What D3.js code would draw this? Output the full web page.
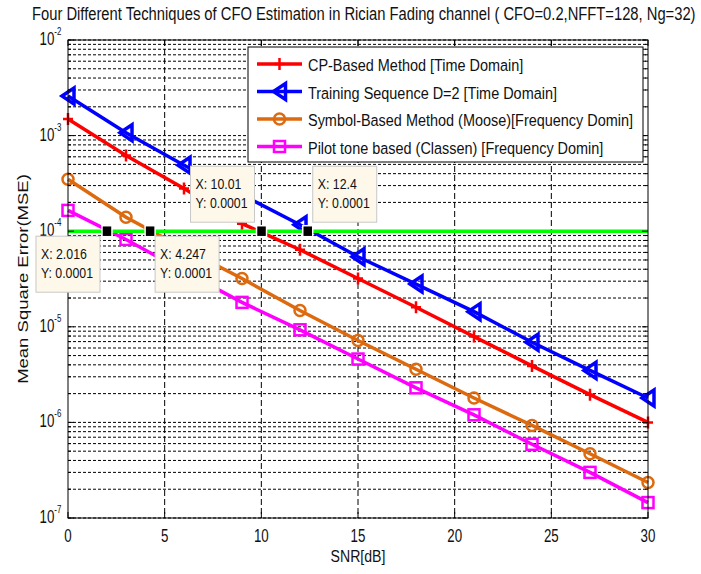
<!DOCTYPE html>
<html>
<head>
<meta charset="utf-8">
<script src="https://d3js.org/d3.v7.min.js"></script>
<style>
  body { margin: 0; background: #fff; }
  text { font-family: "Liberation Sans", Arial, sans-serif; fill: #111; }
  .grid line { stroke: #000; stroke-width: 1; }
</style>
</head>
<body>
<div id="chart"></div>
<script>
// values
const snr = [0, 3, 6, 9, 12, 15, 18, 21, 24, 27, 30];
const cpBased = [1.49e-3, 6.2e-4, 2.8e-4, 1.2e-4, 6.4e-5, 3.2e-5, 1.6e-5, 7.9e-6, 3.9e-6, 1.95e-6, 1.0e-6];
const trainSeq = [2.6e-3, 1.07e-3, 4.9e-4, 2.4e-4, 1.17e-4, 5.4e-5, 2.8e-5, 1.44e-5, 6.9e-6, 3.5e-6, 1.8e-6];
const moose = [3.5e-4, 1.4e-4, 6.6e-5, 3.2e-5, 1.48e-5, 7.2e-6, 3.6e-6, 1.8e-6, 9.3e-7, 4.7e-7, 2.35e-7];
const pilot = [1.65e-4, 8.2e-5, 3.8e-5, 1.8e-5, 9.3e-6, 4.6e-6, 2.3e-6, 1.2e-6, 5.9e-7, 3.0e-7, 1.45e-7];
const threshold = 1e-4;

const seriesNames = [
  "CP-Based Method [Time Domain]",
  "Training Sequence D=2 [Time Domain]",
  "Symbol-Based Method (Moose)[Frequency Domin]",
  "Pilot tone based (Classen) [Frequency Domin]"
];

const xTicks = [0, 5, 10, 15, 20, 25, 30];
const yTicks = [1e-2, 1e-3, 1e-4, 1e-5, 1e-6, 1e-7];

// data tips: x value, y value, placement of the box
const tipX = [2.016, 4.247, 10.01, 12.4];
const tipY = [0.0001, 0.0001, 0.0001, 0.0001];
const tipSide = ["lb", "rb", "la", "ra"];

const title = "Four Different Techniques of CFO Estimation in Rician Fading channel ( CFO=0.2,NFFT=128, Ng=32)";

const W = 701, H = 574;
const pLeft = 68, pRight = 648, pTop = 40, pBottom = 518;

const svg = d3.select("#chart").append("svg")
  .attr("width", W).attr("height", H);

const x = d3.scaleLinear().domain([0, 30]).range([pLeft, pRight]);
const y = d3.scaleLog().domain([1e-7, 1e-2]).range([pBottom, pTop]);

// squeezed text, the original figure is narrower than its fonts
function txt(parent, px, py, str, size, sx, anchor) {
  return parent.append("text")
    .attr("transform", "translate(" + px + "," + py + ") scale(" + sx + ",1)")
    .attr("text-anchor", anchor || "start")
    .style("font-size", size + "px")
    .text(str);
}

// grid
var minor = [];
for (var e = -7; e < -2; e++) {
  for (var k = 1; k < 10; k++) minor.push(k * Math.pow(10, e));
}
minor.push(1e-2);

const grid = svg.append("g").attr("class", "grid");
grid.selectAll(".hg").data(minor).enter().append("line")
  .attr("x1", pLeft).attr("x2", pRight)
  .attr("y1", d => y(d)).attr("y2", d => y(d))
  .attr("stroke-dasharray", "3,2");
grid.selectAll(".vg").data(xTicks.slice(1, -1)).enter().append("line")
  .attr("x1", d => x(d)).attr("x2", d => x(d))
  .attr("y1", pTop).attr("y2", pBottom)
  .attr("stroke-dasharray", "6,3");

// curves
const series = [
  { vals: cpBased, color: "#ff0000", marker: "plus" },
  { vals: trainSeq, color: "#0000ff", marker: "tri" },
  { vals: moose, color: "#dd6a0f", marker: "circle" },
  { vals: pilot, color: "#ff00ff", marker: "square" }
];

function drawMarker(g, type, color) {
  if (type == "plus") {
    g.append("path").attr("d", "M-5,0H5M0,-6V6")
      .attr("stroke", color).attr("stroke-width", 2.5).attr("fill", "none");
  } else if (type == "tri") {
    g.append("path").attr("d", "M-6,0L6,-8L6,8Z")
      .attr("stroke", color).attr("stroke-width", 3.5).attr("fill", "none")
      .attr("stroke-linejoin", "miter");
  } else if (type == "circle") {
    g.append("circle").attr("r", 5.5)
      .attr("stroke", color).attr("stroke-width", 2.5).attr("fill", "none");
  } else {
    g.append("rect").attr("x", -5.5).attr("y", -5.5).attr("width", 11).attr("height", 11)
      .attr("stroke", color).attr("stroke-width", 2.5).attr("fill", "none");
  }
}

const line = d3.line().x(d => x(d[0])).y(d => y(d[1]));

series.forEach(function(s) {
  var pts = snr.map((v, i) => [v, s.vals[i]]);
  svg.append("path")
    .datum(pts)
    .attr("d", line)
    .attr("fill", "none")
    .attr("stroke", s.color)
    .attr("stroke-width", 3.5);
  pts.forEach(function(p) {
    var g = svg.append("g").attr("transform", "translate(" + x(p[0]) + "," + y(p[1]) + ")");
    drawMarker(g, s.marker, s.color);
  });
});

// green threshold line
svg.append("line")
  .attr("x1", x(snr[0])).attr("x2", x(snr[snr.length - 1]))
  .attr("y1", y(threshold)).attr("y2", y(threshold))
  .attr("stroke", "#00ff00").attr("stroke-width", 3.5);

// axes box and ticks
svg.append("rect")
  .attr("x", pLeft).attr("y", pTop)
  .attr("width", pRight - pLeft).attr("height", pBottom - pTop)
  .attr("fill", "none").attr("stroke", "#000").attr("stroke-width", 1);

const ticks = svg.append("g").attr("stroke", "#000").attr("stroke-width", 1);
minor.forEach(function(d) {
  var major = yTicks.indexOf(d) >= 0;
  var len = major ? 6 : 3;
  ticks.append("line").attr("x1", pLeft).attr("x2", pLeft + len).attr("y1", y(d)).attr("y2", y(d));
  ticks.append("line").attr("x1", pRight).attr("x2", pRight - len).attr("y1", y(d)).attr("y2", y(d));
});
xTicks.forEach(function(d) {
  ticks.append("line").attr("x1", x(d)).attr("x2", x(d)).attr("y1", pBottom).attr("y2", pBottom - 6);
  ticks.append("line").attr("x1", x(d)).attr("x2", x(d)).attr("y1", pTop).attr("y2", pTop + 6);
});

// tick labels
xTicks.forEach(function(d) {
  txt(svg, x(d), 542, d, 18.5, 0.72, "middle");
});
yTicks.forEach(function(d) {
  var t = txt(svg, 39.5, y(d) + 5, "10", 18.5, 0.72, "start");
  t.append("tspan").attr("dy", -10).style("font-size", "11px")
    .text(Math.round(Math.log10(d)));
});

// title, squeezed to span the same width as the original
var tt = txt(svg, 32, 20, title, 18.5, 1, "start");
var tw = tt.node().getComputedTextLength();
tt.attr("transform", "translate(32,20) scale(" + (664 / tw) + ",1)");

txt(svg, 358, 562, "SNR[dB]", 17, 0.83, "middle");

svg.append("text")
  .attr("transform", "translate(28,279) scale(0.8,1) rotate(-90)")
  .attr("text-anchor", "middle")
  .style("font-size", "18.5px")
  .text("Mean Square Error(MSE)");

// legend
const lg = svg.append("g");
lg.append("rect")
  .attr("x", 248).attr("y", 47).attr("width", 395).attr("height", 115)
  .attr("fill", "#fff").attr("stroke", "#000").attr("stroke-width", 1);
seriesNames.forEach(function(name, i) {
  var ly = 64 + i * 27.5;
  lg.append("line").attr("x1", 257).attr("x2", 302).attr("y1", ly).attr("y2", ly)
    .attr("stroke", series[i].color).attr("stroke-width", 3.5);
  var g = lg.append("g").attr("transform", "translate(279.5," + ly + ")");
  drawMarker(g, series[i].marker, series[i].color);
  txt(lg, 308, ly + 7, name, 17, 0.85, "start");
});

// data tips
const bw = 64, bh = 56;
tipX.forEach(function(tx, i) {
  var px = x(tx), py = y(tipY[i]);
  var side = tipSide[i];
  var bx = side[0] == "l" ? px - 7 - bw : px + 5;
  var by = side[1] == "a" ? py - 9 - bh : py + 5;
  svg.append("rect")
    .attr("x", px - 5).attr("y", py - 5.5).attr("width", 10).attr("height", 11)
    .attr("fill", "#000").attr("stroke", "#fff").attr("stroke-width", 1.5);
  svg.append("rect")
    .attr("x", bx).attr("y", by).attr("width", bw).attr("height", bh)
    .attr("fill", "#fdf8ea").attr("stroke", "#c8c8c8").attr("stroke-width", 1);
  txt(svg, bx + 5, by + 23, "X: " + tx, 14.5, 0.85, "start");
  txt(svg, bx + 5, by + 42, "Y: " + tipY[i], 14.5, 0.85, "start");
});
</script>
</body>
</html>
